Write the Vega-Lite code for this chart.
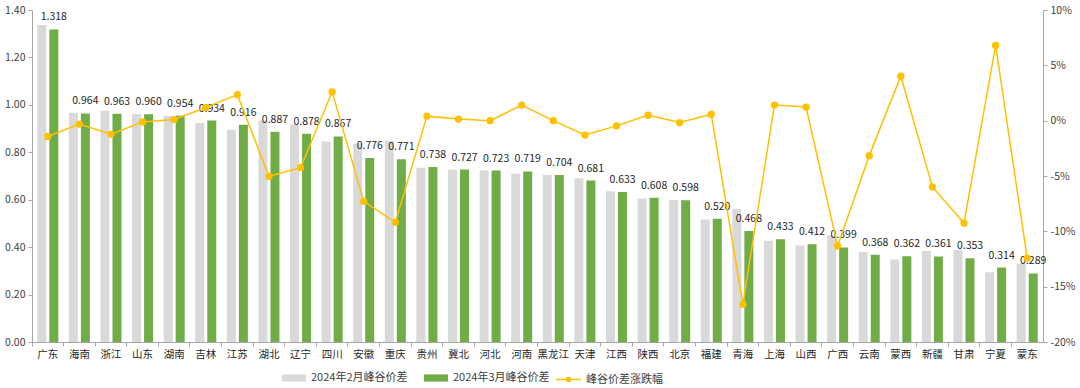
{
  "$schema": "https://vega.github.io/schema/vega-lite/v6.json",
  "width": 1011,
  "height": 332,
  "autosize": {"type": "none"},
  "padding": {"left": 32, "top": 10, "right": 37, "bottom": 46},
  "background": "white",
  "config": {
    "view": {"stroke": null},
    "font": "Noto Sans CJK SC",
    "axis": {
      "labelFont": "Noto Sans CJK SC",
      "labelFontSize": 10.5,
      "labelColor": "#404040",
      "domainColor": "#A6A6A6",
      "tickColor": "#A6A6A6",
      "grid": false,
      "title": null,
      "tickSize": 4
    },
    "legend": {
      "labelFont": "Noto Sans CJK SC",
      "labelFontSize": 11,
      "labelColor": "#404040",
      "padding": 0
    }
  },
  "datasets": {
    "bars": [
      {"province": "广东", "series": "2024年2月峰谷价差", "value": 1.337},
      {"province": "广东", "series": "2024年3月峰谷价差", "value": 1.318},
      {"province": "海南", "series": "2024年2月峰谷价差", "value": 0.967},
      {"province": "海南", "series": "2024年3月峰谷价差", "value": 0.964},
      {"province": "浙江", "series": "2024年2月峰谷价差", "value": 0.975},
      {"province": "浙江", "series": "2024年3月峰谷价差", "value": 0.963},
      {"province": "山东", "series": "2024年2月峰谷价差", "value": 0.961},
      {"province": "山东", "series": "2024年3月峰谷价差", "value": 0.960},
      {"province": "湖南", "series": "2024年2月峰谷价差", "value": 0.953},
      {"province": "湖南", "series": "2024年3月峰谷价差", "value": 0.954},
      {"province": "吉林", "series": "2024年2月峰谷价差", "value": 0.923},
      {"province": "吉林", "series": "2024年3月峰谷价差", "value": 0.934},
      {"province": "江苏", "series": "2024年2月峰谷价差", "value": 0.895},
      {"province": "江苏", "series": "2024年3月峰谷价差", "value": 0.916},
      {"province": "湖北", "series": "2024年2月峰谷价差", "value": 0.934},
      {"province": "湖北", "series": "2024年3月峰谷价差", "value": 0.887},
      {"province": "辽宁", "series": "2024年2月峰谷价差", "value": 0.917},
      {"province": "辽宁", "series": "2024年3月峰谷价差", "value": 0.878},
      {"province": "四川", "series": "2024年2月峰谷价差", "value": 0.845},
      {"province": "四川", "series": "2024年3月峰谷价差", "value": 0.867},
      {"province": "安徽", "series": "2024年2月峰谷价差", "value": 0.837},
      {"province": "安徽", "series": "2024年3月峰谷价差", "value": 0.776},
      {"province": "重庆", "series": "2024年2月峰谷价差", "value": 0.849},
      {"province": "重庆", "series": "2024年3月峰谷价差", "value": 0.771},
      {"province": "贵州", "series": "2024年2月峰谷价差", "value": 0.735},
      {"province": "贵州", "series": "2024年3月峰谷价差", "value": 0.738},
      {"province": "冀北", "series": "2024年2月峰谷价差", "value": 0.726},
      {"province": "冀北", "series": "2024年3月峰谷价差", "value": 0.727},
      {"province": "河北", "series": "2024年2月峰谷价差", "value": 0.723},
      {"province": "河北", "series": "2024年3月峰谷价差", "value": 0.723},
      {"province": "河南", "series": "2024年2月峰谷价差", "value": 0.709},
      {"province": "河南", "series": "2024年3月峰谷价差", "value": 0.719},
      {"province": "黑龙江", "series": "2024年2月峰谷价差", "value": 0.704},
      {"province": "黑龙江", "series": "2024年3月峰谷价差", "value": 0.704},
      {"province": "天津", "series": "2024年2月峰谷价差", "value": 0.690},
      {"province": "天津", "series": "2024年3月峰谷价差", "value": 0.681},
      {"province": "江西", "series": "2024年2月峰谷价差", "value": 0.636},
      {"province": "江西", "series": "2024年3月峰谷价差", "value": 0.633},
      {"province": "陕西", "series": "2024年2月峰谷价差", "value": 0.605},
      {"province": "陕西", "series": "2024年3月峰谷价差", "value": 0.608},
      {"province": "北京", "series": "2024年2月峰谷价差", "value": 0.599},
      {"province": "北京", "series": "2024年3月峰谷价差", "value": 0.598},
      {"province": "福建", "series": "2024年2月峰谷价差", "value": 0.517},
      {"province": "福建", "series": "2024年3月峰谷价差", "value": 0.520},
      {"province": "青海", "series": "2024年2月峰谷价差", "value": 0.561},
      {"province": "青海", "series": "2024年3月峰谷价差", "value": 0.468},
      {"province": "上海", "series": "2024年2月峰谷价差", "value": 0.427},
      {"province": "上海", "series": "2024年3月峰谷价差", "value": 0.433},
      {"province": "山西", "series": "2024年2月峰谷价差", "value": 0.407},
      {"province": "山西", "series": "2024年3月峰谷价差", "value": 0.412},
      {"province": "广西", "series": "2024年2月峰谷价差", "value": 0.450},
      {"province": "广西", "series": "2024年3月峰谷价差", "value": 0.399},
      {"province": "云南", "series": "2024年2月峰谷价差", "value": 0.380},
      {"province": "云南", "series": "2024年3月峰谷价差", "value": 0.368},
      {"province": "蒙西", "series": "2024年2月峰谷价差", "value": 0.348},
      {"province": "蒙西", "series": "2024年3月峰谷价差", "value": 0.362},
      {"province": "新疆", "series": "2024年2月峰谷价差", "value": 0.384},
      {"province": "新疆", "series": "2024年3月峰谷价差", "value": 0.361},
      {"province": "甘肃", "series": "2024年2月峰谷价差", "value": 0.389},
      {"province": "甘肃", "series": "2024年3月峰谷价差", "value": 0.353},
      {"province": "宁夏", "series": "2024年2月峰谷价差", "value": 0.294},
      {"province": "宁夏", "series": "2024年3月峰谷价差", "value": 0.314},
      {"province": "蒙东", "series": "2024年2月峰谷价差", "value": 0.330},
      {"province": "蒙东", "series": "2024年3月峰谷价差", "value": 0.289}
    ],
    "line": [
      {"province": "广东", "series": "峰谷价差涨跌幅", "pct": -0.0142},
      {"province": "海南", "series": "峰谷价差涨跌幅", "pct": -0.0031},
      {"province": "浙江", "series": "峰谷价差涨跌幅", "pct": -0.0123},
      {"province": "山东", "series": "峰谷价差涨跌幅", "pct": -0.0012},
      {"province": "湖南", "series": "峰谷价差涨跌幅", "pct": 0.001},
      {"province": "吉林", "series": "峰谷价差涨跌幅", "pct": 0.0119},
      {"province": "江苏", "series": "峰谷价差涨跌幅", "pct": 0.0235},
      {"province": "湖北", "series": "峰谷价差涨跌幅", "pct": -0.0503},
      {"province": "辽宁", "series": "峰谷价差涨跌幅", "pct": -0.0425},
      {"province": "四川", "series": "峰谷价差涨跌幅", "pct": 0.026},
      {"province": "安徽", "series": "峰谷价差涨跌幅", "pct": -0.0729},
      {"province": "重庆", "series": "峰谷价差涨跌幅", "pct": -0.0919},
      {"province": "贵州", "series": "峰谷价差涨跌幅", "pct": 0.0041},
      {"province": "冀北", "series": "峰谷价差涨跌幅", "pct": 0.0014},
      {"province": "河北", "series": "峰谷价差涨跌幅", "pct": 0.0},
      {"province": "河南", "series": "峰谷价差涨跌幅", "pct": 0.0141},
      {"province": "黑龙江", "series": "峰谷价差涨跌幅", "pct": 0.0},
      {"province": "天津", "series": "峰谷价差涨跌幅", "pct": -0.013},
      {"province": "江西", "series": "峰谷价差涨跌幅", "pct": -0.0047},
      {"province": "陕西", "series": "峰谷价差涨跌幅", "pct": 0.005},
      {"province": "北京", "series": "峰谷价差涨跌幅", "pct": -0.0017},
      {"province": "福建", "series": "峰谷价差涨跌幅", "pct": 0.0058},
      {"province": "青海", "series": "峰谷价差涨跌幅", "pct": -0.1658},
      {"province": "上海", "series": "峰谷价差涨跌幅", "pct": 0.0141},
      {"province": "山西", "series": "峰谷价差涨跌幅", "pct": 0.0123},
      {"province": "广西", "series": "峰谷价差涨跌幅", "pct": -0.1133},
      {"province": "云南", "series": "峰谷价差涨跌幅", "pct": -0.0316},
      {"province": "蒙西", "series": "峰谷价差涨跌幅", "pct": 0.0402},
      {"province": "新疆", "series": "峰谷价差涨跌幅", "pct": -0.0599},
      {"province": "甘肃", "series": "峰谷价差涨跌幅", "pct": -0.0925},
      {"province": "宁夏", "series": "峰谷价差涨跌幅", "pct": 0.068},
      {"province": "蒙东", "series": "峰谷价差涨跌幅", "pct": -0.1242}
    ]
  },
  "layer": [
    {
      "data": {"name": "bars"},
      "layer": [
        {
          "mark": {"type": "bar"},
          "encoding": {
            "x": {
              "field": "province", "type": "nominal", "sort": null,
              "scale": {"paddingInner": 0, "paddingOuter": 0},
              "axis": {"labelAngle": 0, "bandPosition": 0, "labelPadding": 3, "labelFontSize": 10.5, "labelColor": "#262626"}
            },
            "xOffset": {
              "field": "series", "type": "nominal",
              "scale": {"domain": ["2024年2月峰谷价差", "2024年3月峰谷价差"], "paddingInner": 0.25, "paddingOuter": 0.44}
            },
            "y": {
              "field": "value", "type": "quantitative",
              "scale": {"domain": [0, 1.4], "nice": false, "zero": true},
              "axis": {"orient": "left", "values": [0, 0.2, 0.4, 0.6, 0.8, 1.0, 1.2, 1.4], "format": ".2f", "labelPadding": 3}
            },
            "fill": {
              "field": "series", "type": "nominal",
              "scale": {"domain": ["2024年2月峰谷价差", "2024年3月峰谷价差"], "range": ["#D9D9D9", "#70AD47"]},
              "legend": {
                "title": null, "orient": "none", "direction": "horizontal",
                "legendX": 250, "legendY": 356,
                "symbolType": "M-1,-0.3H1V0.3H-1Z", "symbolSize": 576,
                "symbolStrokeWidth": 0, "columnPadding": 16, "labelOffset": 5
              }
            }
          }
        },
        {
          "transform": [{"filter": "datum.series === '2024年3月峰谷价差'"}],
          "mark": {"type": "text", "baseline": "alphabetic", "dy": -9, "fontSize": 10.5, "color": "#262626", "font": "Noto Sans CJK SC"},
          "encoding": {
            "x": {"field": "province", "type": "nominal", "sort": null},
            "xOffset": {"field": "series", "type": "nominal"},
            "y": {"field": "value", "type": "quantitative"},
            "text": {"field": "value", "type": "quantitative", "format": ".3f"}
          }
        }
      ]
    },
    {
      "data": {"name": "line"},
      "mark": {"type": "line", "strokeWidth": 1.5, "point": {"filled": true, "size": 28, "color": "#FFC000"}},
      "encoding": {
        "x": {"field": "province", "type": "nominal", "sort": null},
        "y": {
          "field": "pct", "type": "quantitative",
          "scale": {"domain": [-0.2, 0.1], "nice": false, "zero": false},
          "axis": {"orient": "right", "values": [-0.2, -0.15, -0.1, -0.05, 0, 0.05, 0.1], "labelExpr": "round(datum.value*100) + '%'", "labelPadding": 3}
        },
        "stroke": {
          "field": "series", "type": "nominal",
          "scale": {"domain": ["峰谷价差涨跌幅"], "range": ["#FFC000"]},
          "legend": {
            "title": null, "orient": "none", "direction": "horizontal",
            "legendX": 523, "legendY": 356,
            "symbolType": "M-1,0H1M-0.16,0A0.16,0.16 0 1,0 0.16,0A0.16,0.16 0 1,0 -0.16,0",
            "symbolSize": 625, "symbolStrokeWidth": 1.5, "symbolFillColor": "#FFC000", "labelOffset": 4
          }
        }
      }
    }
  ],
  "resolve": {"scale": {"y": "independent", "fill": "independent", "stroke": "independent"}}
}
